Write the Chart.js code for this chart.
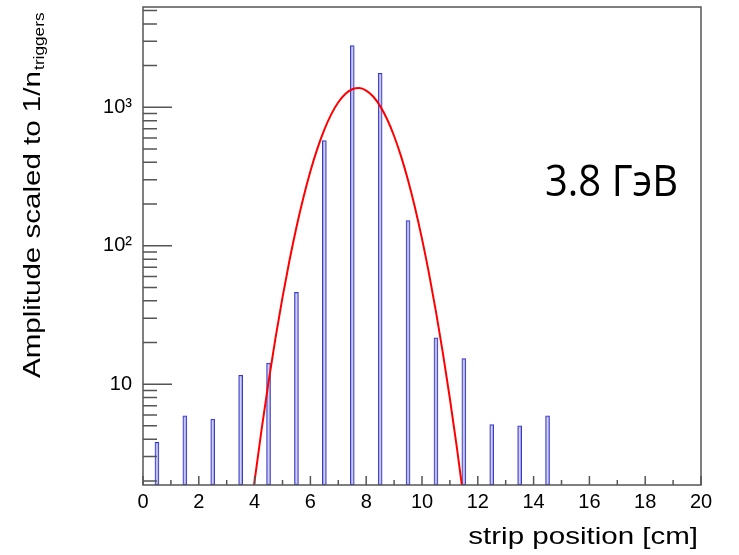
<!DOCTYPE html>
<html>
<head>
<meta charset="utf-8">
<script src="https://cdn.jsdelivr.net/npm/chart.js@4.4.1/dist/chart.umd.min.js"></script>
<style>
  html, body { margin: 0; padding: 0; background: #fff; }
</style>
</head>
<body>
<canvas id="grafico" width="739" height="555"></canvas>
<script>
const stripPos = [0.5, 1.5, 2.5, 3.5, 4.5, 5.5, 6.5, 7.5, 8.5, 9.5, 10.5, 11.5, 12.5, 13.5, 14.5];
const amplitude = [3.8, 5.9, 5.6, 11.6, 14.2, 46, 575, 2790, 1760, 152, 21.6, 15.3, 5.1, 5.0, 5.9];

const fitX = [3.9, 4.0, 4.25, 4.5, 4.75, 5.0, 5.25, 5.5, 5.75, 6.0, 6.25, 6.5, 6.75, 7.0, 7.25, 7.5, 7.75,
  8.0, 8.25, 8.5, 8.75, 9.0, 9.25, 9.5, 9.75, 10.0, 10.25, 10.5, 10.75, 11.0, 11.25, 11.5];
const fitY = [1.40, 2.00, 4.70, 10.4, 21.6, 42.4, 78.2, 136, 223, 345, 503, 690, 892, 1087, 1248, 1350, 1376,
  1321, 1196, 1019, 819, 620, 442, 297, 188, 112, 63.1, 33.4, 16.7, 7.85, 3.48, 1.45];

const xTicks = [0, 2, 4, 6, 8, 10, 12, 14, 16, 18, 20];
const yTicks = [10, 100, 1000];
const yTickLabels = ["10", "10²", "10³"];
const xMin = 0, xMax = 20;
const yMin = 1.87, yMax = 5300;

const tituloX = "strip position [cm]";
const tituloY = "Amplitude scaled to 1/n";
const tituloYSub = "triggers";
const rotuloEnergia = "3.8 ГэВ";

const corEixo = "#555";
const esticar = 1.23; // fonte dos títulos é mais larga

// Plugin: moldura, marcas internas, títulos e rótulo
const moldura = {
  id: "moldura",
  afterDraw(chart) {
    const ctx = chart.ctx;
    const a = chart.chartArea;
    const sx = chart.scales.x;
    const sy = chart.scales.y;

    ctx.save();
    ctx.strokeStyle = corEixo;
    ctx.lineWidth = 1.5;
    ctx.strokeRect(a.left, a.top, a.right - a.left, a.bottom - a.top);

    // marcas do eixo x (a cada 1, maiores nos pares)
    ctx.beginPath();
    for (let v = xMin; v <= xMax; v++) {
      const px = sx.getPixelForValue(v);
      const len = v % 2 === 0 ? 9 : 5;
      ctx.moveTo(px, a.bottom);
      ctx.lineTo(px, a.bottom - len);
    }
    // marcas do eixo y (log)
    for (let dec = 1; dec <= 1000; dec *= 10) {
      for (let m = 1; m <= 9; m++) {
        const v = m * dec;
        if (v < yMin || v > yMax) continue;
        const py = sy.getPixelForValue(v);
        const len = m === 1 ? 29 : 14;
        ctx.moveTo(a.left, py);
        ctx.lineTo(a.left + len, py);
      }
    }
    ctx.stroke();

    ctx.fillStyle = "#000";
    ctx.textBaseline = "alphabetic";

    // título do eixo x, alinhado à direita
    ctx.font = "24px 'Liberation Sans', Arial, sans-serif";
    ctx.textAlign = "right";
    ctx.save();
    ctx.translate(698, 544);
    ctx.scale(esticar, 1);
    ctx.fillText(tituloX, 0, 0);
    ctx.restore();

    // título do eixo y com subscrito
    ctx.textAlign = "left";
    ctx.save();
    ctx.translate(40, 378);
    ctx.rotate(-Math.PI / 2);
    ctx.scale(esticar, 1);
    ctx.font = "24px 'Liberation Sans', Arial, sans-serif";
    ctx.fillText(tituloY, 0, 0);
    const w = ctx.measureText(tituloY).width;
    ctx.font = "14px 'Liberation Sans', Arial, sans-serif";
    ctx.fillText(tituloYSub, w + 1, 4);
    ctx.restore();

    // rótulo da energia
    ctx.font = "42px 'Open Sans', sans-serif";
    const wl = ctx.measureText(rotuloEnergia).width;
    ctx.save();
    ctx.translate(545, 196);
    ctx.scale(Math.min(1, 133 / wl), 1.05);
    ctx.fillText(rotuloEnergia, 0, 0);
    ctx.restore();

    ctx.restore();
  },
};

const ctx = document.getElementById("grafico").getContext("2d");

new Chart(ctx, {
  data: {
    datasets: [
      {
        type: "line",
        label: "ajuste",
        data: fitX.map((x, i) => ({ x: x, y: fitY[i] })),
        borderColor: "#ff0000",
        borderWidth: 2,
        pointRadius: 0,
        cubicInterpolationMode: "monotone",
        order: 0,
      },
      {
        type: "bar",
        label: "amplitude",
        data: stripPos.map((x, i) => ({ x: x, y: amplitude[i] })),
        base: yMin,
        barThickness: 4,
        borderWidth: 1,
        borderSkipped: false,
        borderColor: "rgb(55, 55, 200)",
        backgroundColor: "rgba(190, 190, 240, 0.7)",
        order: 1,
      },
    ],
  },
  options: {
    responsive: false,
    animation: false,
    layout: { padding: { top: 7, right: 38, left: 0, bottom: 0 } },
    plugins: {
      legend: { display: false },
      tooltip: { enabled: false },
    },
    scales: {
      x: {
        type: "linear",
        min: xMin,
        max: xMax,
        offset: false,
        grid: { display: false, drawTicks: false },
        border: { display: false },
        afterBuildTicks: (scale) => {
          scale.ticks = xTicks.map((v) => ({ value: v }));
        },
        afterFit: (scale) => {
          scale.height = 70;
          scale.paddingLeft = 0;
          scale.paddingRight = 0;
        },
        ticks: {
          padding: 5,
          maxRotation: 0,
          autoSkip: false,
          color: "#000",
          font: { family: "'Liberation Sans', Arial, sans-serif", size: 20 },
        },
      },
      y: {
        type: "logarithmic",
        min: yMin,
        max: yMax,
        grid: { display: false, drawTicks: false },
        border: { display: false },
        afterBuildTicks: (scale) => {
          scale.ticks = yTicks.map((v) => ({ value: v }));
        },
        afterFit: (scale) => {
          scale.width = 143;
          scale.paddingTop = 0;
          scale.paddingBottom = 0;
        },
        ticks: {
          padding: 11,
          autoSkip: false,
          color: "#000",
          font: { family: "'Liberation Sans', Arial, sans-serif", size: 20 },
          callback: (value) => {
            const i = yTicks.indexOf(value);
            return i >= 0 ? yTickLabels[i] : "";
          },
        },
      },
    },
  },
  plugins: [moldura],
});
</script>
</body>
</html>
